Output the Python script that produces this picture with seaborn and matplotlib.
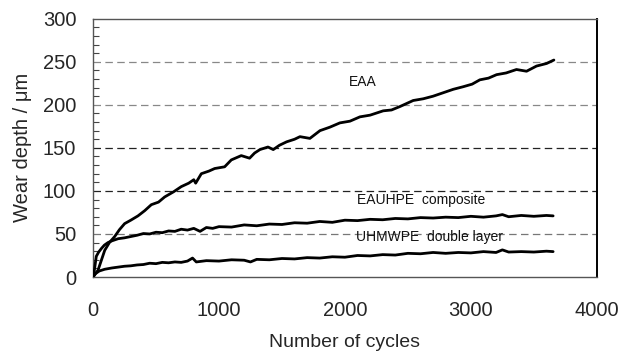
import matplotlib
matplotlib.use("Agg")
import matplotlib.pyplot as plt
import pandas as pd
import seaborn as sns
from matplotlib.ticker import MultipleLocator

# values
eaa_cycles = [0, 10, 40, 93, 130, 172, 210, 251, 300, 357, 410, 463, 520, 569, 640,
              701, 760, 800, 815, 860, 920, 966, 1045, 1098, 1177, 1243, 1283, 1325,
              1389, 1431, 1480, 1537, 1600, 1643, 1722, 1802, 1880, 1960, 2040, 2119,
              2200, 2304, 2370, 2437, 2542, 2622, 2700, 2780, 2860, 2939, 3010, 3071,
              3140, 3204, 3280, 3362, 3442, 3521, 3601, 3659]
eaa_depth = [0, 2, 8, 31, 40, 47, 55, 62, 66, 71, 77, 84, 87, 93, 99,
             105, 109, 113, 109, 120, 123, 126, 128, 136, 141, 138, 144, 148,
             151, 148, 153, 157, 160, 163, 161, 170, 174, 179, 181, 186,
             188, 193, 194, 198, 205, 207, 210, 214, 218, 221, 224, 229,
             231, 235, 237, 241, 239, 245, 248, 252]

comp_cycles = [0, 8, 26, 45, 66, 90, 119, 150, 200, 250, 300, 350, 400, 450, 500,
               550, 600, 650, 700, 750, 800, 850, 900, 950, 1000, 1100, 1200, 1300,
               1400, 1500, 1600, 1700, 1800, 1900, 2000, 2100, 2200, 2300, 2400,
               2500, 2600, 2700, 2800, 2900, 3000, 3100, 3200, 3250, 3300, 3400,
               3500, 3600, 3653]
comp_depth = [0, 5, 24, 29, 33, 37, 40, 42, 44.5, 45.5, 47, 48.5, 50.5, 50, 52,
              51.5, 53.5, 53, 55.5, 54.5, 56.5, 53, 57.5, 56.5, 58.5, 58, 60.5, 59.5,
              61.5, 61, 63, 62.5, 64.5, 63.5, 66, 65.5, 67, 66.5, 68,
              67.5, 69, 68.5, 69.5, 69, 70.5, 69.5, 71, 72.5, 70, 71.5,
              70.5, 71.5, 71]

uhmw_cycles = [0, 20, 50, 93, 150, 200, 250, 300, 350, 400, 450, 500, 550, 600,
               650, 700, 750, 790, 820, 900, 1000, 1100, 1200, 1250, 1300, 1400,
               1500, 1600, 1700, 1800, 1900, 2000, 2100, 2200, 2300, 2400, 2500,
               2600, 2700, 2800, 2900, 3000, 3100, 3200, 3250, 3300, 3400, 3500,
               3600, 3653]
uhmw_depth = [0, 4, 7, 9, 10.5, 11.5, 12.5, 13, 14, 14.5, 16, 15.5, 17, 16.5,
              17.5, 17, 18.5, 22, 17.5, 19, 18.5, 20, 19.5, 17.5, 20.5, 20,
              21.5, 21, 22.5, 22, 23.5, 23, 25, 24.5, 26, 25.5, 27.5,
              27, 28.5, 27.5, 28.5, 28, 29.5, 28.5, 31.5, 29, 29.5, 29,
              30, 29.5]

labels = ["EAA", "EAUHPE  composite", "UHMWPE  double layer"]
label_x = [2143, 2608, 2675]
label_y = [226, 89, 46]
grid_levels = [50, 100, 150, 200, 250]
grid_colors = ["#777777", "#222222", "#222222", "#888888", "#888888"]

df = pd.concat([
    pd.DataFrame({"cycles": eaa_cycles, "depth": eaa_depth, "series": labels[0]}),
    pd.DataFrame({"cycles": comp_cycles, "depth": comp_depth, "series": labels[1]}),
    pd.DataFrame({"cycles": uhmw_cycles, "depth": uhmw_depth, "series": labels[2]}),
])

sns.set_style("white")
plt.rcParams["font.family"] = ["Liberation Sans", "DejaVu Sans"]

fig = plt.figure(figsize=(6.23, 3.51), dpi=100)
ax = fig.add_axes([0.1493, 0.2108, 0.8087, 0.7359])

for lvl, col in zip(grid_levels, grid_colors):
    ax.axhline(lvl, color=col, lw=0.9, dashes=(6, 3.5), zorder=1)

sns.lineplot(data=df, x="cycles", y="depth", units="series", estimator=None,
             color="black", lw=2.0, sort=False, ax=ax, zorder=3)

for txt, x, y in zip(labels, label_x, label_y):
    ax.text(x, y, txt, ha="center", va="center", fontsize=10, color="#111111")

ax.set_xlim(0, 4000)
ax.set_ylim(0, 300)
ax.xaxis.set_major_locator(MultipleLocator(1000))
ax.yaxis.set_major_locator(MultipleLocator(50))
ax.yaxis.set_minor_locator(MultipleLocator(10))
ax.tick_params(axis="x", which="major", direction="in", length=5, width=1,
               color="#444444", labelsize=14.5, pad=17)
ax.tick_params(axis="y", which="major", direction="in", length=5, width=1,
               color="#444444", labelsize=14.5, pad=12)
ax.tick_params(axis="y", which="minor", direction="in", length=4, width=0.8,
               color="#444444", left=True)

for side in ["left", "bottom", "top"]:
    ax.spines[side].set_color("#555555")
    ax.spines[side].set_linewidth(1)
ax.spines["right"].set_color("black")
ax.spines["right"].set_linewidth(1.4)

ax.set_xlabel("Number of cycles", fontsize=14, labelpad=10)
ax.set_ylabel("Wear depth / μm", fontsize=14.5, labelpad=8)
if ax.get_legend():
    ax.get_legend().remove()

fig.savefig("out.png", dpi=100)
